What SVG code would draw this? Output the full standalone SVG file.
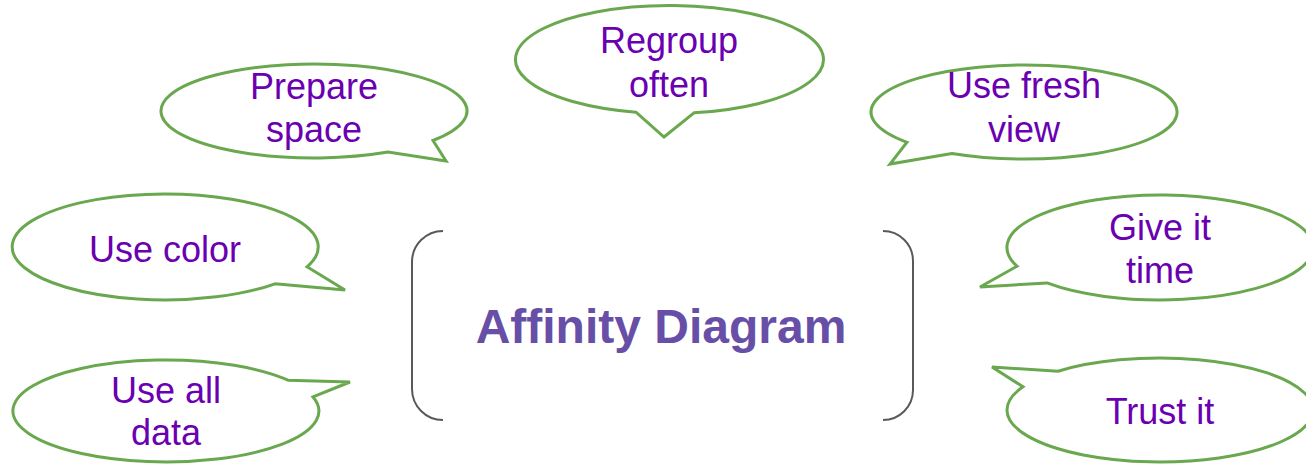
<svg xmlns="http://www.w3.org/2000/svg" width="1306" height="465" viewBox="0 0 1306 465">
<style>
.bubble{fill:#ffffff;stroke:#6aa84f;stroke-width:3;stroke-linejoin:miter}
.lbl{font-family:"Liberation Sans",Arial,sans-serif;font-size:36px;fill:#6a00b0;text-anchor:middle}
.title{font-family:"Liberation Sans",Arial,sans-serif;font-size:48px;font-weight:bold;fill:#674ea7;text-anchor:middle}
.bracket{fill:none;stroke:#595959;stroke-width:2}
</style>
<rect width="1306" height="465" fill="#ffffff"/>
<g id="center">
<path class="bracket" d="M 443,231 A 31 31 0 0 0 412,262 L 412,389 A 31 31 0 0 0 443,420"/>
<path class="bracket" d="M 883,231 A 30 30 0 0 1 913,261 L 913,390 A 30 30 0 0 1 883,420"/>
<text class="title" x="661" y="343">Affinity Diagram</text>
</g>
<g id="prepare-space">
<path class="bubble" d="M 433,140.5 L 446,161 L 388,152.1 A 153 47 0 1 1 433,140.5 Z"/>
<text class="lbl" x="314" y="99">Prepare</text>
<text class="lbl" x="314" y="142">space</text>
</g>
<g id="regroup-often">
<path class="bubble" d="M 694,112.8 L 664,137 L 636,112.2 A 154 54 0 1 1 694,112.8 Z"/>
<text class="lbl" x="669" y="53">Regroup</text>
<text class="lbl" x="669" y="97">often</text>
</g>
<g id="use-fresh-view">
<path class="bubble" d="M 952,153.5 L 890,164 L 907,142.3 A 153 47 0 1 1 952,153.5 Z"/>
<text class="lbl" x="1024" y="98">Use fresh</text>
<text class="lbl" x="1024" y="142">view</text>
</g>
<g id="use-color">
<path class="bubble" d="M 307,266.8 L 345,290 L 275,283.8 A 153 53 0 1 1 307,266.8 Z"/>
<text class="lbl" x="165" y="262">Use color</text>
</g>
<g id="use-all-data">
<path class="bubble" d="M 288,380.2 L 350,382 L 313,396.9 A 153 51 0 1 1 288,380.2 Z"/>
<text class="lbl" x="166" y="403">Use all</text>
<text class="lbl" x="166" y="445">data</text>
</g>
<g id="give-it-time">
<path class="bubble" d="M 1047,282.9 L 980,287 L 1017,266.2 A 153 52.5 0 1 1 1047,282.9 Z"/>
<text class="lbl" x="1160" y="240">Give it</text>
<text class="lbl" x="1160" y="283">time</text>
</g>
<g id="trust-it">
<path class="bubble" d="M 1023,386.8 L 992,367 L 1058,371.2 A 153 52 0 1 1 1023,386.8 Z"/>
<text class="lbl" x="1160" y="424">Trust it</text>
</g>
</svg>
